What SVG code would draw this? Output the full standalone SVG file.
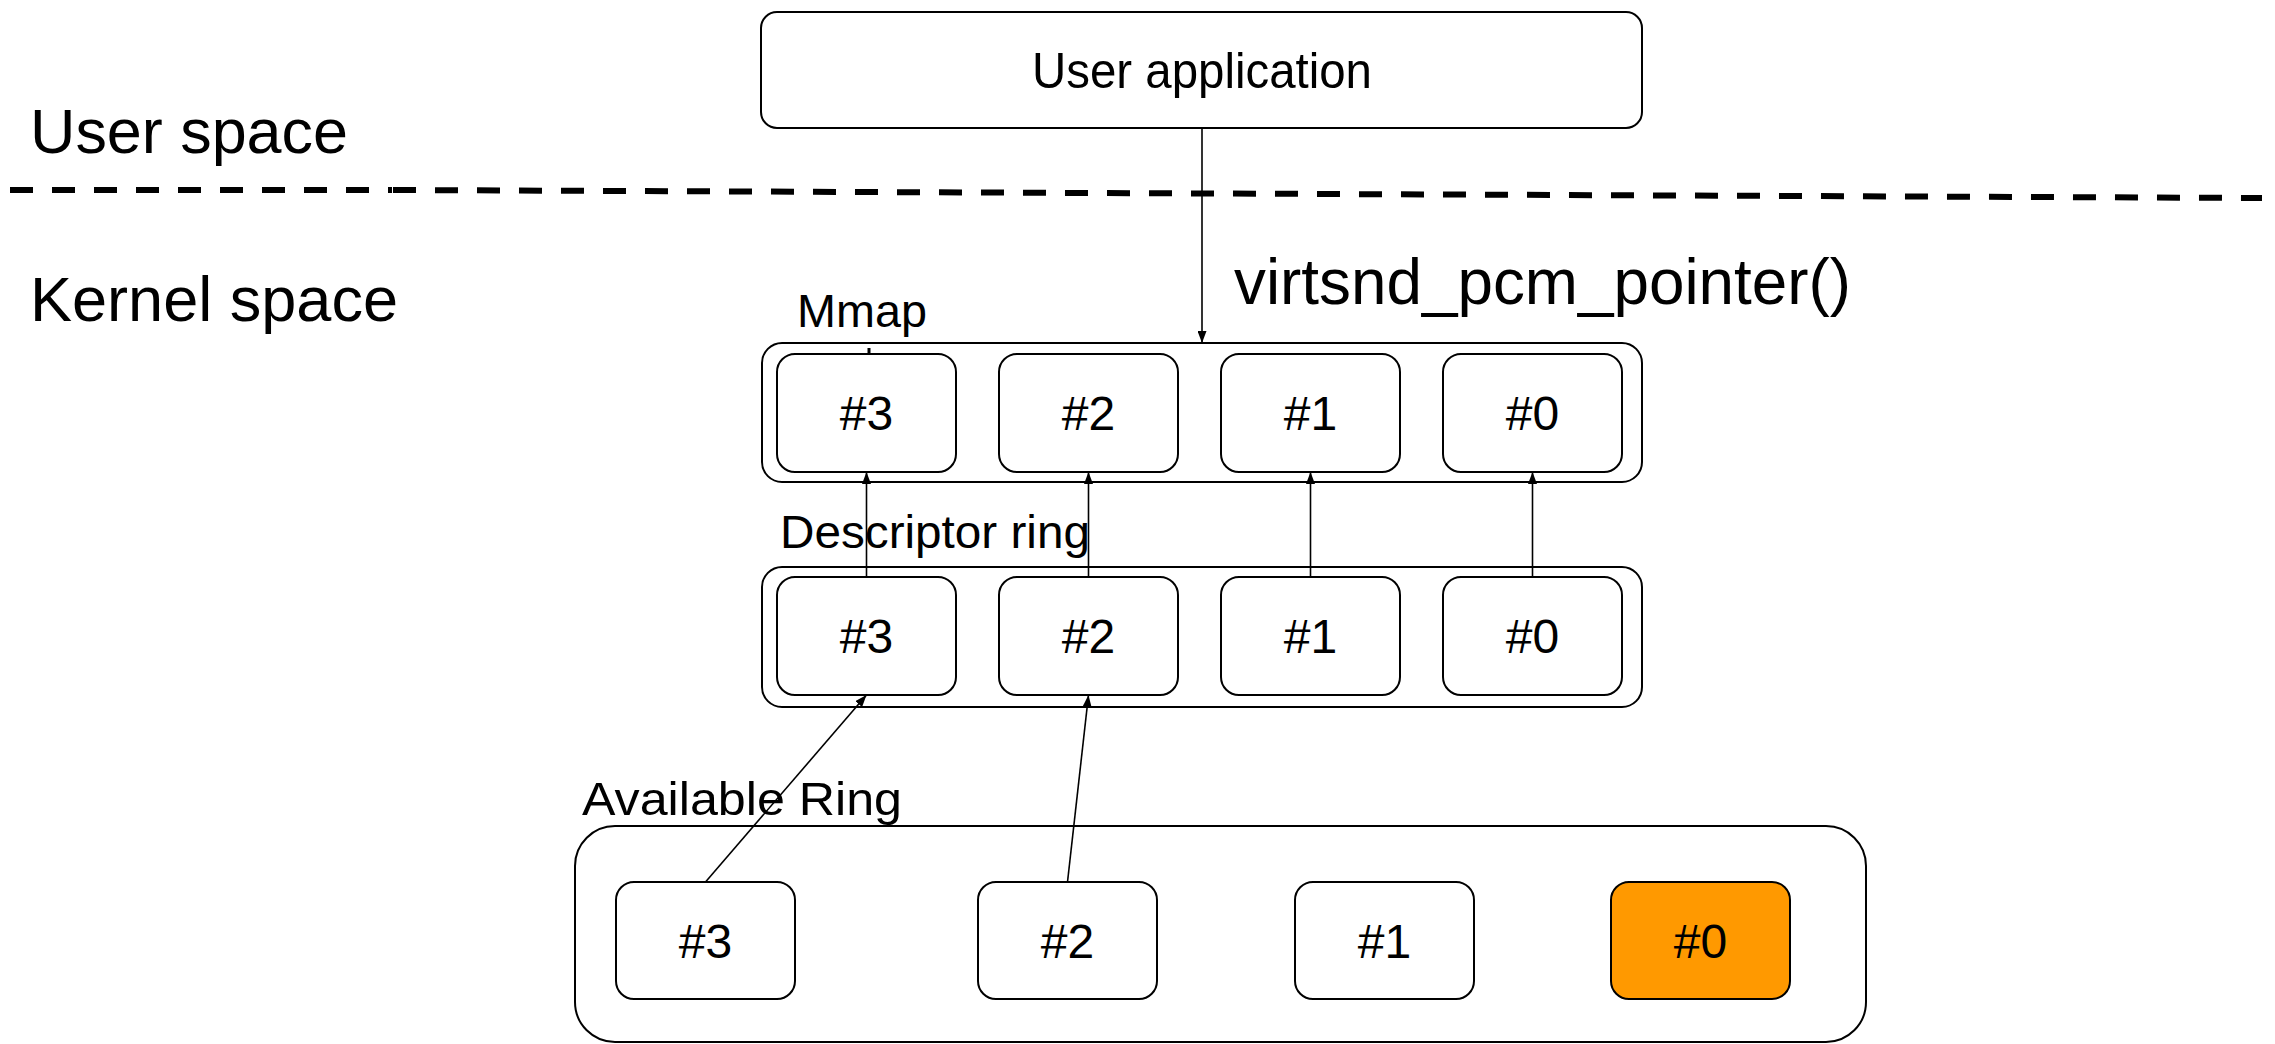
<svg xmlns="http://www.w3.org/2000/svg" width="2275" height="1044" viewBox="0 0 2275 1044">
<defs>
<marker id="ah" viewBox="0 0 12 9" refX="12" refY="4.5" markerWidth="12" markerHeight="9" markerUnits="userSpaceOnUse" orient="auto">
<path d="M0,0 L12,4.5 L0,9 z" fill="#000"/>
</marker>
<style>
.box{fill:#fff;stroke:#000;stroke-width:2}
.orange{fill:#ff9900;stroke:#000;stroke-width:2}
.t{font-family:"Liberation Sans",Arial,sans-serif;fill:#000}
.cell{font-size:48px;text-anchor:middle}
.lbl{font-size:47px}
.big{font-size:63px}
.conn{stroke:#000;stroke-width:1.6;fill:none}
.dash{stroke:#000;stroke-width:6;fill:none;stroke-dasharray:23 19}
</style>
</defs>
<rect width="2275" height="1044" fill="#fff"/>

<g id="separator">
<path class="dash" d="M10,190 H392"/>
<path class="dash" d="M393,190 L2262,198"/>
</g>

<text id="label-user-space" class="t big" x="30" y="153" textLength="318" lengthAdjust="spacingAndGlyphs">User space</text>
<text id="label-kernel-space" class="t big" x="30" y="321" textLength="368" lengthAdjust="spacingAndGlyphs">Kernel space</text>

<g id="user-app">
<rect class="box" x="761" y="12" width="881" height="116" rx="16"/>
<text class="t" x="1202" y="88" font-size="50" text-anchor="middle" textLength="340" lengthAdjust="spacingAndGlyphs">User application</text>
</g>

<text id="label-virtsnd" class="t" x="1234" y="304" font-size="65" textLength="617" lengthAdjust="spacingAndGlyphs">virtsnd_pcm_pointer()</text>

<g id="mmap">
<text class="t lbl" x="797" y="327" textLength="130" lengthAdjust="spacingAndGlyphs">Mmap</text>
<rect class="box" x="762" y="343" width="880" height="139" rx="20"/>
<line x1="869" y1="348" x2="869" y2="354" stroke="#000" stroke-width="3"/>
<g id="mmap-3"><rect class="box" x="777" y="354" width="179" height="118" rx="18"/><text class="t cell" x="866.5" y="430">#3</text></g>
<g id="mmap-2"><rect class="box" x="999" y="354" width="179" height="118" rx="18"/><text class="t cell" x="1088.5" y="430">#2</text></g>
<g id="mmap-1"><rect class="box" x="1221" y="354" width="179" height="118" rx="18"/><text class="t cell" x="1310.5" y="430">#1</text></g>
<g id="mmap-0"><rect class="box" x="1443" y="354" width="179" height="118" rx="18"/><text class="t cell" x="1532.5" y="430">#0</text></g>
</g>

<g id="descriptor-ring">
<text class="t lbl" x="780" y="548" textLength="310" lengthAdjust="spacingAndGlyphs">Descriptor ring</text>
<rect class="box" x="762" y="567" width="880" height="140" rx="20"/>
<g id="desc-3"><rect class="box" x="777" y="577" width="179" height="118" rx="18"/><text class="t cell" x="866.5" y="653">#3</text></g>
<g id="desc-2"><rect class="box" x="999" y="577" width="179" height="118" rx="18"/><text class="t cell" x="1088.5" y="653">#2</text></g>
<g id="desc-1"><rect class="box" x="1221" y="577" width="179" height="118" rx="18"/><text class="t cell" x="1310.5" y="653">#1</text></g>
<g id="desc-0"><rect class="box" x="1443" y="577" width="179" height="118" rx="18"/><text class="t cell" x="1532.5" y="653">#0</text></g>
</g>

<g id="available-ring">
<text class="t lbl" x="582" y="815" textLength="320" lengthAdjust="spacingAndGlyphs">Available Ring</text>
<rect class="box" x="575" y="826" width="1291" height="216" rx="40"/>
<g id="avail-3"><rect class="box" x="616" y="882" width="179" height="117" rx="18"/><text class="t cell" x="705.5" y="957.5">#3</text></g>
<g id="avail-2"><rect class="box" x="978" y="882" width="179" height="117" rx="18"/><text class="t cell" x="1067.5" y="957.5">#2</text></g>
<g id="avail-1"><rect class="box" x="1295" y="882" width="179" height="117" rx="18"/><text class="t cell" x="1384.5" y="957.5">#1</text></g>
<g id="avail-0"><rect class="orange" x="1611" y="882" width="179" height="117" rx="18"/><text class="t cell" x="1700.5" y="957.5">#0</text></g>
</g>

<g id="connectors">
<line class="conn" x1="1202" y1="128" x2="1202" y2="343" marker-end="url(#ah)"/>
<line class="conn" x1="866.5" y1="577" x2="866.5" y2="472" marker-end="url(#ah)"/>
<line class="conn" x1="1088.5" y1="577" x2="1088.5" y2="472" marker-end="url(#ah)"/>
<line class="conn" x1="1310.5" y1="577" x2="1310.5" y2="472" marker-end="url(#ah)"/>
<line class="conn" x1="1532.5" y1="577" x2="1532.5" y2="472" marker-end="url(#ah)"/>
<line class="conn" x1="705.5" y1="882" x2="866.5" y2="695" marker-end="url(#ah)"/>
<line class="conn" x1="1067.5" y1="882" x2="1088.5" y2="695" marker-end="url(#ah)"/>
</g>
</svg>
